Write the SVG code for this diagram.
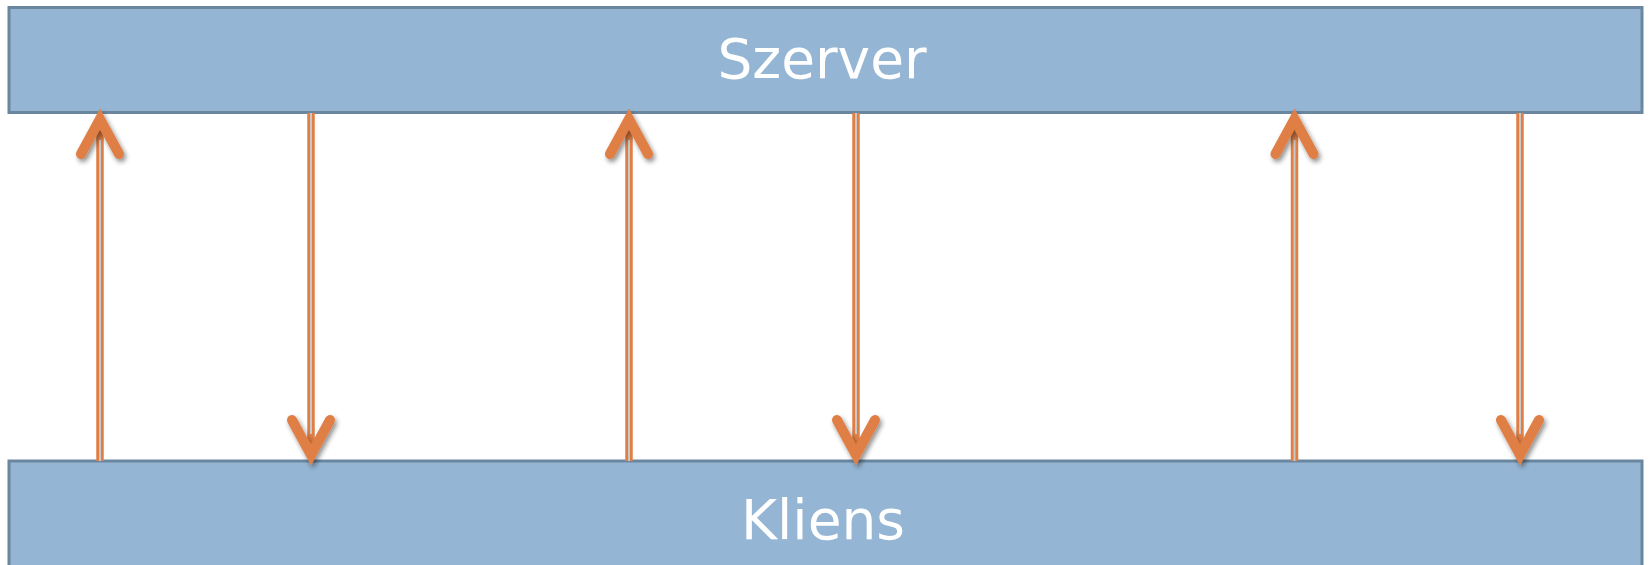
<svg xmlns="http://www.w3.org/2000/svg" width="1649" height="565" viewBox="0 0 1649 565">
<defs>
<style>
.box{fill:#94b5d3;stroke:#6b87a0;stroke-width:3}
.lbl{font-family:"DejaVu Sans","Liberation Sans",sans-serif;font-size:55px;fill:#ffffff;text-anchor:middle}
.shaft{stroke:#e07f45;stroke-width:7.5;fill:none}
.gap{stroke:#c8c8c8;stroke-width:2;fill:none}
.head{stroke:#e07f45;stroke-width:10;fill:none;stroke-linecap:round;stroke-linejoin:miter;stroke-miterlimit:10}
</style>
<filter id="sh" x="-50%" y="-50%" width="200%" height="200%">
<feGaussianBlur in="SourceAlpha" stdDeviation="2.5"/>
<feOffset dx="2" dy="3" result="b"/>
<feComponentTransfer><feFuncA type="linear" slope="0.45"/></feComponentTransfer>
<feMerge><feMergeNode/><feMergeNode in="SourceGraphic"/></feMerge>
</filter>
</defs>
<g id="szerver">
<rect class="box" x="9" y="7.5" width="1633" height="105"/>
<text class="lbl" x="822" y="78">Szerver</text>
</g>
<g id="kliens">
<rect class="box" x="9" y="461" width="1633" height="110"/>
<text class="lbl" x="823" y="539">Kliens</text>
</g>
<g id="connectors">
<g id="up1"><line class="shaft" x1="100" y1="461" x2="100" y2="122"/><line class="gap" x1="100" y1="461" x2="100" y2="140"/><polyline class="head" filter="url(#sh)" points="81,154 100,119 119,154"/></g>
<g id="down1"><line class="shaft" x1="311" y1="113" x2="311" y2="452"/><line class="gap" x1="311" y1="113" x2="311" y2="434"/><polyline class="head" filter="url(#sh)" points="292,420 311,455 330,420"/></g>
<g id="up2"><line class="shaft" x1="629" y1="461" x2="629" y2="122"/><line class="gap" x1="629" y1="461" x2="629" y2="140"/><polyline class="head" filter="url(#sh)" points="610,154 629,119 648,154"/></g>
<g id="down2"><line class="shaft" x1="856" y1="113" x2="856" y2="452"/><line class="gap" x1="856" y1="113" x2="856" y2="434"/><polyline class="head" filter="url(#sh)" points="837,420 856,455 875,420"/></g>
<g id="up3"><line class="shaft" x1="1294.5" y1="461" x2="1294.5" y2="122"/><line class="gap" x1="1294.5" y1="461" x2="1294.5" y2="140"/><polyline class="head" filter="url(#sh)" points="1275.5,154 1294.5,119 1313.5,154"/></g>
<g id="down3"><line class="shaft" x1="1520" y1="113" x2="1520" y2="452"/><line class="gap" x1="1520" y1="113" x2="1520" y2="434"/><polyline class="head" filter="url(#sh)" points="1501,420 1520,455 1539,420"/></g>
</g>
</svg>
